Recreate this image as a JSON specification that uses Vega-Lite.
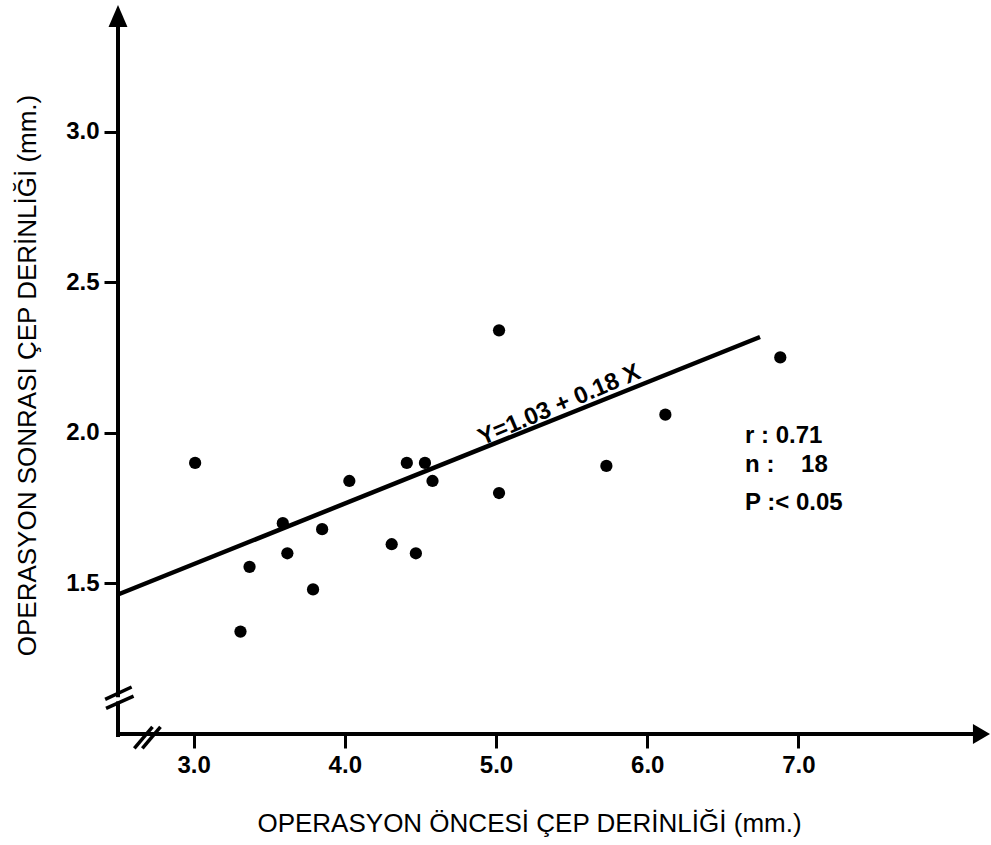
{
  "$schema": "https://vega.github.io/schema/vega-lite/v6.json",
  "width": 872,
  "height": 729,
  "autosize": {"type": "none"},
  "padding": {"left": 118, "top": 5, "right": 1, "bottom": 111},
  "background": "white",
  "config": {"view": {"stroke": null}, "font": "Liberation Sans"},
  "datasets": {
    "points": [
      {"x": 3.01, "y": 1.90},
      {"x": 3.31, "y": 1.34},
      {"x": 3.37, "y": 1.555},
      {"x": 3.59, "y": 1.70},
      {"x": 3.62, "y": 1.60},
      {"x": 3.79, "y": 1.48},
      {"x": 3.85, "y": 1.68},
      {"x": 4.03, "y": 1.84},
      {"x": 4.31, "y": 1.63},
      {"x": 4.41, "y": 1.90},
      {"x": 4.47, "y": 1.60},
      {"x": 4.53, "y": 1.90},
      {"x": 4.58, "y": 1.84},
      {"x": 5.02, "y": 2.34},
      {"x": 5.02, "y": 1.80},
      {"x": 5.73, "y": 1.89},
      {"x": 6.12, "y": 2.06},
      {"x": 6.88, "y": 2.25}
    ],
    "fit": [{"x": 2.5, "y": 1.463}, {"x": 6.746, "y": 2.318}],
    "axislines": [
      {"x": 2.5, "y": 0.99, "x2": 2.5, "y2": 3.37},
      {"x": 2.49, "y": 1.0, "x2": 8.2, "y2": 1.0}
    ],
    "gap": [{"x": 2.5, "y": 1.108, "x2": 2.5, "y2": 1.122}],
    "breaks": [
      {"x": 2.415, "y": 1.115, "x2": 2.59, "y2": 1.156},
      {"x": 2.421, "y": 1.085, "x2": 2.603, "y2": 1.126},
      {"x": 2.608, "y": 0.952, "x2": 2.728, "y2": 1.024},
      {"x": 2.661, "y": 0.952, "x2": 2.781, "y2": 1.024}
    ],
    "arrows": [
      {"x": 2.5, "y": 3.42, "dir": "up"},
      {"x": 8.267, "y": 1.0, "dir": "right"}
    ],
    "equation": [{"x": 5.437, "y": 2.07, "label": "Y=1.03 + 0.18 X"}],
    "stats": [
      {"x": 6.647, "y": 1.967, "label": "r : 0.71"},
      {"x": 6.647, "y": 1.871, "label": "n :\u00a0\u00a0\u00a0\u00a018"},
      {"x": 6.647, "y": 1.745, "label": "P :< 0.05"}
    ]
  },
  "encoding": {
    "x": {
      "field": "x",
      "type": "quantitative",
      "scale": {"domain": [2.5, 8.267], "nice": false, "zero": false},
      "axis": {
        "values": [3, 4, 5, 6, 7],
        "format": ".1f",
        "domain": false,
        "grid": false,
        "ticks": true,
        "tickSize": 14,
        "tickWidth": 3,
        "tickColor": "black",
        "labelFont": "Liberation Sans",
        "labelFontSize": 24,
        "labelFontWeight": "bold",
        "labelColor": "black",
        "labelPadding": 5,
        "title": "OPERASYON ÖNCESİ ÇEP DERİNLİĞİ (mm.)",
        "titleFont": "Liberation Sans",
        "titleFontSize": 26,
        "titleFontWeight": "normal",
        "titleColor": "black",
        "titleX": 411,
        "titleY": 97,
        "titleAlign": "center",
        "titleBaseline": "alphabetic"
      }
    },
    "y": {
      "field": "y",
      "type": "quantitative",
      "scale": {"domain": [1.0, 3.42], "nice": false, "zero": false},
      "axis": {
        "values": [1.5, 2.0, 2.5, 3.0],
        "format": ".1f",
        "domain": false,
        "grid": false,
        "ticks": true,
        "tickSize": 14,
        "tickWidth": 3,
        "tickColor": "black",
        "labelFont": "Liberation Sans",
        "labelFontSize": 24,
        "labelFontWeight": "bold",
        "labelColor": "black",
        "labelPadding": 5,
        "title": "OPERASYON SONRASI ÇEP DERİNLİĞİ (mm.)",
        "titleFont": "Liberation Sans",
        "titleFontSize": 26,
        "titleFontWeight": "normal",
        "titleColor": "black",
        "titleAngle": 270,
        "titleX": -83,
        "titleY": 370,
        "titleAlign": "center",
        "titleBaseline": "alphabetic"
      }
    }
  },
  "layer": [
    {
      "data": {"name": "axislines"},
      "mark": {"type": "rule", "color": "black", "strokeWidth": 4},
      "encoding": {"x2": {"field": "x2"}, "y2": {"field": "y2"}}
    },
    {
      "data": {"name": "gap"},
      "mark": {"type": "rule", "color": "white", "strokeWidth": 7},
      "encoding": {"x2": {"field": "x2"}, "y2": {"field": "y2"}}
    },
    {
      "data": {"name": "breaks"},
      "mark": {"type": "rule", "color": "black", "strokeWidth": 3.5},
      "encoding": {"x2": {"field": "x2"}, "y2": {"field": "y2"}}
    },
    {
      "data": {"name": "arrows"},
      "mark": {"type": "point", "filled": true, "color": "black", "opacity": 1, "size": 484, "strokeWidth": 0},
      "encoding": {
        "shape": {
          "field": "dir",
          "type": "nominal",
          "scale": {"domain": ["up", "right"], "range": ["M0,0L-0.86,2L0.86,2Z", "M0,0L-1.55,-0.9L-1.55,0.9Z"]},
          "legend": null
        }
      }
    },
    {
      "data": {"name": "fit"},
      "mark": {"type": "line", "color": "black", "strokeWidth": 4.5},
      "encoding": {}
    },
    {
      "data": {"name": "points"},
      "mark": {"type": "circle", "color": "black", "opacity": 1, "size": 150}
    },
    {
      "data": {"name": "equation"},
      "mark": {"type": "text", "angle": 337, "align": "center", "baseline": "alphabetic", "font": "Liberation Sans", "fontSize": 24, "fontWeight": "bold", "color": "black"},
      "encoding": {"text": {"field": "label"}}
    },
    {
      "data": {"name": "stats"},
      "mark": {"type": "text", "align": "left", "baseline": "alphabetic", "font": "Liberation Sans", "fontSize": 24, "fontWeight": "bold", "color": "black"},
      "encoding": {"text": {"field": "label"}}
    }
  ]
}
